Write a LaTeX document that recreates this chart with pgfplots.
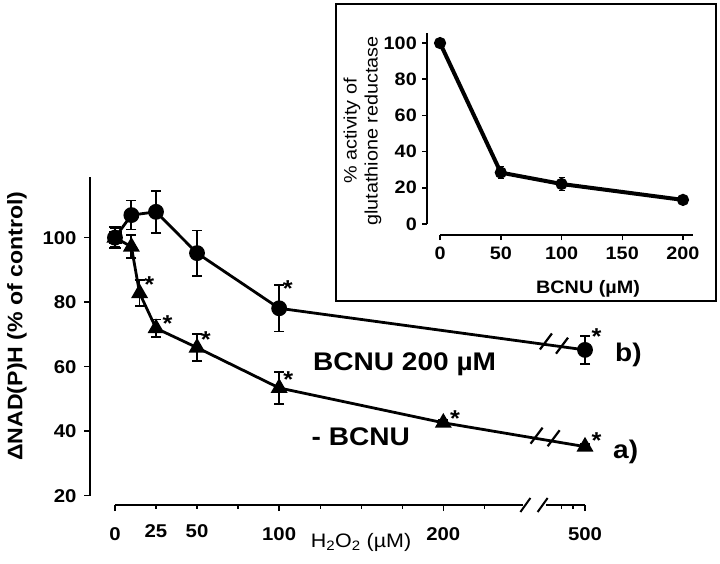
\documentclass[border=0pt]{standalone}
\usepackage{pgfplots}
\pgfplotsset{compat=1.18}
\usepackage{fontspec}
\setmainfont{Liberation Sans}[FakeStretch=1.1]
\newcommand{\fs}[1]{\fontsize{#1}{#1}\selectfont}

\begin{document}
\begin{tikzpicture}[x=1pt,y=1pt]
\useasboundingbox (0,0) rectangle (720,563);
% ---------------- main axis ----------------
\begin{axis}[
  at={(90pt,58pt)}, anchor=south west,
  scale only axis, width=495pt, height=328.3pt,
  xmin=-15.2, xmax=286.3, ymin=17.1, ymax=118.9,
  clip=false,
  axis x line*=bottom, axis y line*=left,
  axis line style={draw=none},
  tick align=outside,
  major tick length=6pt, minor tick length=3.5pt,
  tick style={black, line width=1.6pt},
  minor tick style={black, line width=1.2pt},
  xtick={0,100,200,286.3},
  xticklabels={0,100,200,500},
  extra x ticks={25,50},
  extra x tick labels={25,50},
  extra x tick style={major tick length=3.5pt},
  minor xtick={75,125,150,175,225,272,279},
  ytick={20,40,60,80,100},
  yticklabels={20,40,60,80,100},
  ticklabel style={font=\bfseries\fs{18.5}},
  xticklabel shift=13pt,
  yticklabel shift=4pt,
]
% axis lines with break
\draw[line width=2pt] (axis cs:-15.2,20) -- (axis cs:-15.2,118.9);
\draw[line width=2pt] (axis cs:0,17.1) -- (axis cs:248.5,17.1);
\draw[line width=2pt] (axis cs:262.5,17.1) -- (axis cs:286.3,17.1);
\draw[line width=2pt] ([xshift=-5pt,yshift=-7pt]axis cs:250,17.1) -- ([xshift=5pt,yshift=7pt]axis cs:250,17.1);
\draw[line width=2pt] ([xshift=-5pt,yshift=-7pt]axis cs:260.5,17.1) -- ([xshift=5pt,yshift=7pt]axis cs:260.5,17.1);

% series a) - BCNU (triangles)
\addplot[black, line width=2.8pt, mark=triangle*, mark size=7pt,
  error bars/.cd, y dir=both, y explicit,
  error bar style={line width=1.8pt},
  error mark options={rotate=90, mark size=5pt, line width=1.8pt}]
  coordinates {
  (0,100) +- (0,3)
  (10,97.2) +- (0,3.6)
  (15,82.8) +- (0,4)
  (25,71.9) +- (0,2.7)
  (50,65.9) +- (0,4.2)
  (100,53.4) +- (0,5)
  (200,42.6) +- (0,0.8)
  (286.3,35.2) +- (0,0.8)
};
% series b) BCNU 200 uM (circles)
\addplot[black, line width=2.8pt, mark=*, mark size=6.5pt,
  error bars/.cd, y dir=both, y explicit,
  error bar style={line width=1.8pt},
  error mark options={rotate=90, mark size=5pt, line width=1.8pt}]
  coordinates {
  (0,100) +- (0,3)
  (10,107) +- (0,4.5)
  (25,108) +- (0,6.5)
  (50,95.2) +- (0,7)
  (100,78.1) +- (0,7.2)
  (286.3,65.2) +- (0,4.4)
};
% control point
\addplot[black, only marks, mark=square*, mark size=6pt,
  error bars/.cd, y dir=both, y explicit,
  error bar style={line width=1.8pt},
  error mark options={rotate=90, mark size=6pt, line width=1.8pt}]
  coordinates {(0,100) +- (0,3.3)};
% significance stars
\addplot[draw=none, mark=none, nodes near coords={*},
  every node near coord/.append style={font=\bfseries\fs{23}, anchor=center, yshift=-5pt, inner sep=0pt}]
  coordinates {
  (105.2,85.9) (293.4,70.9)
  (20.9,87.1) (32.1,75.0) (55.4,70.0) (105.6,57.6) (207.1,45.6) (293.4,38.5)
};
% breaks on the lines
\draw[line width=2.2pt] ([xshift=-6pt,yshift=-8pt]axis cs:262.5,67.8) -- ([xshift=6pt,yshift=8pt]axis cs:262.5,67.8);
\draw[line width=2.2pt] ([xshift=-6pt,yshift=-8pt]axis cs:272.3,66.5) -- ([xshift=6pt,yshift=8pt]axis cs:272.3,66.5);
\draw[line width=2.2pt] ([xshift=-6pt,yshift=-8pt]axis cs:256.8,38.6) -- ([xshift=6pt,yshift=8pt]axis cs:256.8,38.6);
\draw[line width=2.2pt] ([xshift=-6pt,yshift=-8pt]axis cs:267.2,37.8) -- ([xshift=6pt,yshift=8pt]axis cs:267.2,37.8);
\end{axis}

% main labels
\node[rotate=90, font=\bfseries\fs{21}] at (17,237) {ΔNAD(P)H (\% of control)};
\node[anchor=base, font=\fs{19.5}] at (361,16) {H\textsubscript{2}O\textsubscript{2} (µM)};
\node[anchor=base west, inner sep=0pt, font=\bfseries\fs{25.5}] at (313,193) {BCNU 200 µM};
\node[anchor=base west, inner sep=0pt, font=\bfseries\fs{25.5}] at (311.5,118) {- BCNU};
\node[anchor=base west, inner sep=0pt, font=\bfseries\fs{25.5}] at (615,202) {b)};
\node[anchor=base west, inner sep=0pt, font=\bfseries\fs{25.5}] at (613,104.5) {a)};

% ---------------- inset ----------------
\draw[line width=2pt, fill=white] (336,262) rectangle (716,559);
\begin{axis}[
  at={(427.3pt,328pt)}, anchor=south west,
  scale only axis, width=266pt, height=201.7pt,
  xmin=-10.5, xmax=208.5, ymin=-6.1, ymax=105.4,
  clip=false,
  axis x line*=bottom, axis y line*=left,
  axis line style={draw=none},
  tick align=outside,
  major tick length=5pt,
  tick style={black, line width=1.5pt},
  xtick={0,50,100,150,200},
  xticklabels={0,50,100,150,200},
  ytick={0,20,40,60,80,100},
  yticklabels={0,20,40,60,80,100},
  ticklabel style={font=\bfseries\fs{18}},
  xticklabel shift=3pt,
  yticklabel shift=2pt,
]
\draw[line width=1.8pt] (axis cs:0,-6.1) -- (axis cs:208.5,-6.1);
\draw[line width=1.8pt] (axis cs:-10.5,0) -- (axis cs:-10.5,105.4);
\addplot[black, line width=4pt, mark=*, mark size=4pt,
  error bars/.cd, y dir=both, y explicit,
  error bar style={line width=1pt},
  error mark options={rotate=90, mark size=3pt, line width=1pt}]
  coordinates {
  (0,100) +- (0,0.5)
  (50,28.4) +- (0,3.2)
  (100,22.1) +- (0,3.7)
  (200,13.3) +- (0,1)
};
\end{axis}
\node[rotate=90, align=center, font=\fontsize{18}{21}\selectfont] at (362.5,432) {\% activity of\\glutathione reductase};
\node[font=\bfseries\fs{18}] at (588,274) {BCNU (µM)};
\end{tikzpicture}
\end{document}
